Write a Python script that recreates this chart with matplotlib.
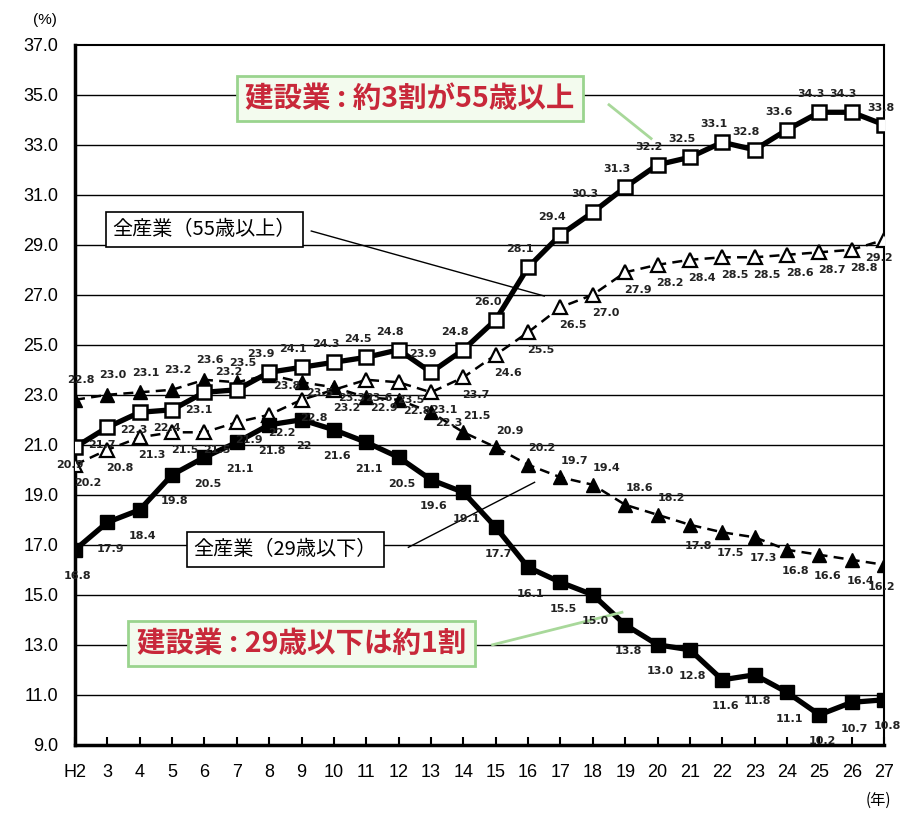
import matplotlib
matplotlib.use("Agg")
import matplotlib.pyplot as plt
import numpy as np

plt.rcParams['font.family'] = ['Liberation Sans Narrow', 'Liberation Sans', 'DejaVu Sans']

years = ["H2"] + [str(y) for y in range(3, 28)]

# 建設業 55歳以上
con_55 = [20.9, 21.7, 22.3, 22.4, 23.1, 23.2, 23.9, 24.1, 24.3, 24.5, 24.8, 23.9, 24.8,
          26.0, 28.1, 29.4, 30.3, 31.3, 32.2, 32.5, 33.1, 32.8, 33.6, 34.3, 34.3, 33.8]
# 全産業 55歳以上
all_55 = [20.2, 20.8, 21.3, 21.5, 21.5, 21.9, 22.2, 22.8, 23.2, 23.6, 23.5, 23.1, 23.7,
          24.6, 25.5, 26.5, 27.0, 27.9, 28.2, 28.4, 28.5, 28.5, 28.6, 28.7, 28.8, 29.2]
# 全産業 29歳以下
all_29 = [22.8, 23.0, 23.1, 23.2, 23.6, 23.5, 23.8, 23.5, 23.3, 22.9, 22.8, 22.3, 21.5,
          20.9, 20.2, 19.7, 19.4, 18.6, 18.2, 17.8, 17.5, 17.3, 16.8, 16.6, 16.4, 16.2]
# 建設業 29歳以下
con_29 = [16.8, 17.9, 18.4, 19.8, 20.5, 21.1, 21.8, 22.0, 21.6, 21.1, 20.5, 19.6, 19.1,
          17.7, 16.1, 15.5, 15.0, 13.8, 13.0, 12.8, 11.6, 11.8, 11.1, 10.2, 10.7, 10.8]

x = np.arange(len(years))

fig = plt.figure(figsize=(9.04, 8.14), dpi=100)
ax = fig.add_axes([0.083, 0.085, 0.895, 0.86])

for v in np.arange(11, 37, 2):
    ax.axhline(v, color="black", lw=1.0, zorder=1)

ax.plot(x, all_55, color="black", lw=1.8, ls=(0, (4, 2.5)), marker="^", ms=10,
        mfc="white", mec="black", mew=1.6, zorder=3)
ax.plot(x, all_29, color="black", lw=1.8, ls=(0, (4, 2.5)), marker="^", ms=10,
        mfc="black", mec="black", zorder=3)
ax.plot(x, con_29, color="black", lw=3.8, marker="s", ms=10.5,
        mfc="black", mec="black", zorder=4)
ax.plot(x, con_55, color="black", lw=3.8, marker="s", ms=10.5,
        mfc="white", mec="black", mew=1.8, zorder=4)


def label(i, v, dx, dy, txt=None):
    ax.annotate(txt or f"{v:.1f}", (x[i], v), xytext=(dx, dy),
                textcoords="offset points", ha="center", va="center",
                fontsize=8, fontweight="bold", family="DejaVu Sans",
                color="#222222", zorder=6)


for i, v in enumerate(con_55):
    if i < 5:
        label(i, v, -4, -13)
    elif i == len(x) - 1:
        label(i, v, -2, 12)
    else:
        label(i, v, -6, 13)

for i, v in enumerate(all_55):
    label(i, v, -4 if i == len(x) - 1 else 9, -13)

for i, v in enumerate(all_29):
    if i < 6:
        label(i, v, 4, 14)
    elif i < 12:
        label(i, v, 13, -8)
    elif i < 19:
        label(i, v, 10, 12)
    elif i == len(x) - 1:
        label(i, v, -2, -16)
    else:
        label(i, v, 6, -15)

for i, v in enumerate(con_29):
    label(i, v, 2, -19, "22" if v == 22.0 else None)

ax.set_xlim(0, 25)
ax.set_ylim(9, 37)
ax.set_yticks(np.arange(9, 38, 2))
ax.set_yticklabels([f"{v:.1f}" for v in np.arange(9, 38, 2)], fontsize=13)
ax.set_xticks(x)
ax.set_xticklabels(years, fontsize=13)
ax.tick_params(axis="x", direction="in", length=6, width=1.5, pad=14)
ax.tick_params(axis="y", length=0, pad=12)
for side in ["left", "bottom"]:
    ax.spines[side].set_linewidth(2.5)
for side in ["top", "right"]:
    ax.spines[side].set_linewidth(1.5)

fig.text(0.05, 0.975, "(%)", fontsize=11, ha="center", va="center")
fig.text(0.972, 0.017, "(年)", fontsize=11, ha="center", va="center",
         family=["Noto Sans CJK JP"])

# callout boxes
red_box = dict(boxstyle="square,pad=0.3", fc="#f3fbee", ec="#9ad48e", lw=2)
white_box = dict(boxstyle="square,pad=0.35", fc="white", ec="black", lw=1.2)

ax.text(10.35, 34.85, "建設業 : 約3割が55歳以上", fontsize=20.5, color="#c8283a",
        fontweight="bold", ha="center", va="center", bbox=red_box,
        family=["Noto Sans CJK JP"], zorder=7)
ax.plot([16.5, 17.8], [34.6, 33.25], color="#a8d89a", lw=2, zorder=5)

ax.text(7.0, 13.05, "建設業 : 29歳以下は約1割", fontsize=20.5, color="#c8283a",
        fontweight="bold", ha="center", va="center", bbox=red_box,
        family=["Noto Sans CJK JP"], zorder=7)
ax.plot([12.9, 16.9], [13.0, 14.3], color="#a8d89a", lw=2, zorder=5)

ax.text(4.0, 29.6, "全産業（55歳以上）", fontsize=14.5, color="black",
        ha="center", va="center", bbox=white_box,
        family=["Noto Sans CJK JP"], zorder=7)
ax.plot([7.3, 14.5], [29.55, 26.95], color="black", lw=1, zorder=5)

ax.text(6.5, 16.8, "全産業（29歳以下）", fontsize=14.5, color="black",
        ha="center", va="center", bbox=white_box,
        family=["Noto Sans CJK JP"], zorder=7)
ax.plot([10.3, 14.2], [16.9, 19.5], color="black", lw=1, zorder=5)

fig.savefig("out.png", dpi=100)
